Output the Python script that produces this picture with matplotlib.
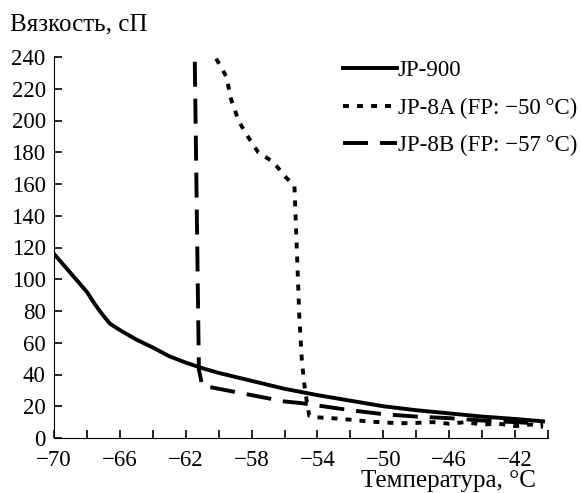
import matplotlib
matplotlib.use('Agg')
from matplotlib import pyplot as plt
from matplotlib.ticker import MultipleLocator

plt.rcParams['font.family'] = ['Liberation Serif', 'DejaVu Serif']
plt.rcParams['font.size'] = 16.5
plt.rcParams['lines.scale_dashes'] = False

# JP-900
jp900_t = [-70, -69, -68, -67.5, -67, -66.6, -66, -65, -64, -63, -62, -61, -60, -59, -58,
           -57, -56, -55, -54, -52, -50, -48, -46, -44, -42, -40.3]
jp900_v = [116, 104, 92, 84, 77, 72, 68, 62, 57, 51.5, 47.5, 44, 41, 38.5, 36,
           33.5, 31, 29, 27, 23.5, 20, 17.5, 15.5, 13.5, 12, 10.5]

# JP-8A (FP: -50 C)
jp8a_t = [-60.15, -59.5, -59.3, -58.8, -58.3, -57.6, -56.7, -55.9, -55.4, -55.25, -55.1,
          -54.95, -54.8, -54.65, -54.5, -54, -53, -52, -51, -50, -49, -48, -47, -46,
          -45, -44, -43, -42, -41, -40.3]
jp8a_v = [239, 227, 215, 200, 191, 180, 174, 164, 159, 118, 76,
          49, 34, 23, 14, 13, 12.4, 11.5, 10.5, 9.8, 9.3, 9.5, 10, 9,
          10, 8.5, 9, 7.5, 8.5, 7]

# JP-8B (FP: -57 C)
jp8b_t = [-61.45, -61.2, -61.0, -60, -59, -58, -57, -56, -55, -54, -52, -50, -48, -46,
          -44, -42, -40.3]
jp8b_v = [237, 43, 33, 31, 29, 27, 25, 23, 22, 20.5, 17.5, 15, 13.5, 12.5,
          11, 10, 9]

xtick_vals = [-70, -66, -62, -58, -54, -50, -46, -42]

fig = plt.figure(figsize=(5.81, 4.93), dpi=100)
ax = fig.add_axes([54 / 581, 1 - 438 / 493, (548 - 54) / 581, (438 - 57) / 493])

ax.plot(jp900_t, jp900_v, color='black', lw=2.8, label='JP-900')
ax.plot(jp8a_t, jp8a_v, color='black', lw=2.8, dashes=(4.3, 5.8), label='JP-8A (FP: \u221250\u2009°C)')
ax.plot(jp8b_t, jp8b_v, color='black', lw=2.8, dashes=(18, 8.6), label='JP-8B (FP: \u221257\u2009°C)')

ax.set_xlim(-70, -40)
ax.set_ylim(0, 240)
ax.spines['top'].set_visible(False)
ax.spines['right'].set_visible(False)
ax.set_xticks(xtick_vals, [f'\u2212{-v}' for v in xtick_vals])
ax.xaxis.set_minor_locator(MultipleLocator(2))
ax.yaxis.set_major_locator(MultipleLocator(20))
ax.tick_params(which='both', direction='in', length=6, width=1.2, labelsize=16.5)
ax.tick_params(axis='x', pad=9)
ax.tick_params(axis='y', pad=6)

fig.text(10 / 581, 1 - 24 / 493, 'Вязкость, сП', ha='left', va='center', fontsize=18)
fig.text(536 / 581, 1 - 481 / 493, 'Температура, °C', ha='right', va='center', fontsize=18)

ax.legend(loc='upper left', bbox_to_anchor=(343 / 581, 1 - 60 / 493),
          bbox_transform=fig.transFigure, frameon=False, borderpad=0,
          borderaxespad=0, handlelength=2.35, handletextpad=0.05, labelspacing=0.72)

plt.savefig('out.png', dpi=100)
